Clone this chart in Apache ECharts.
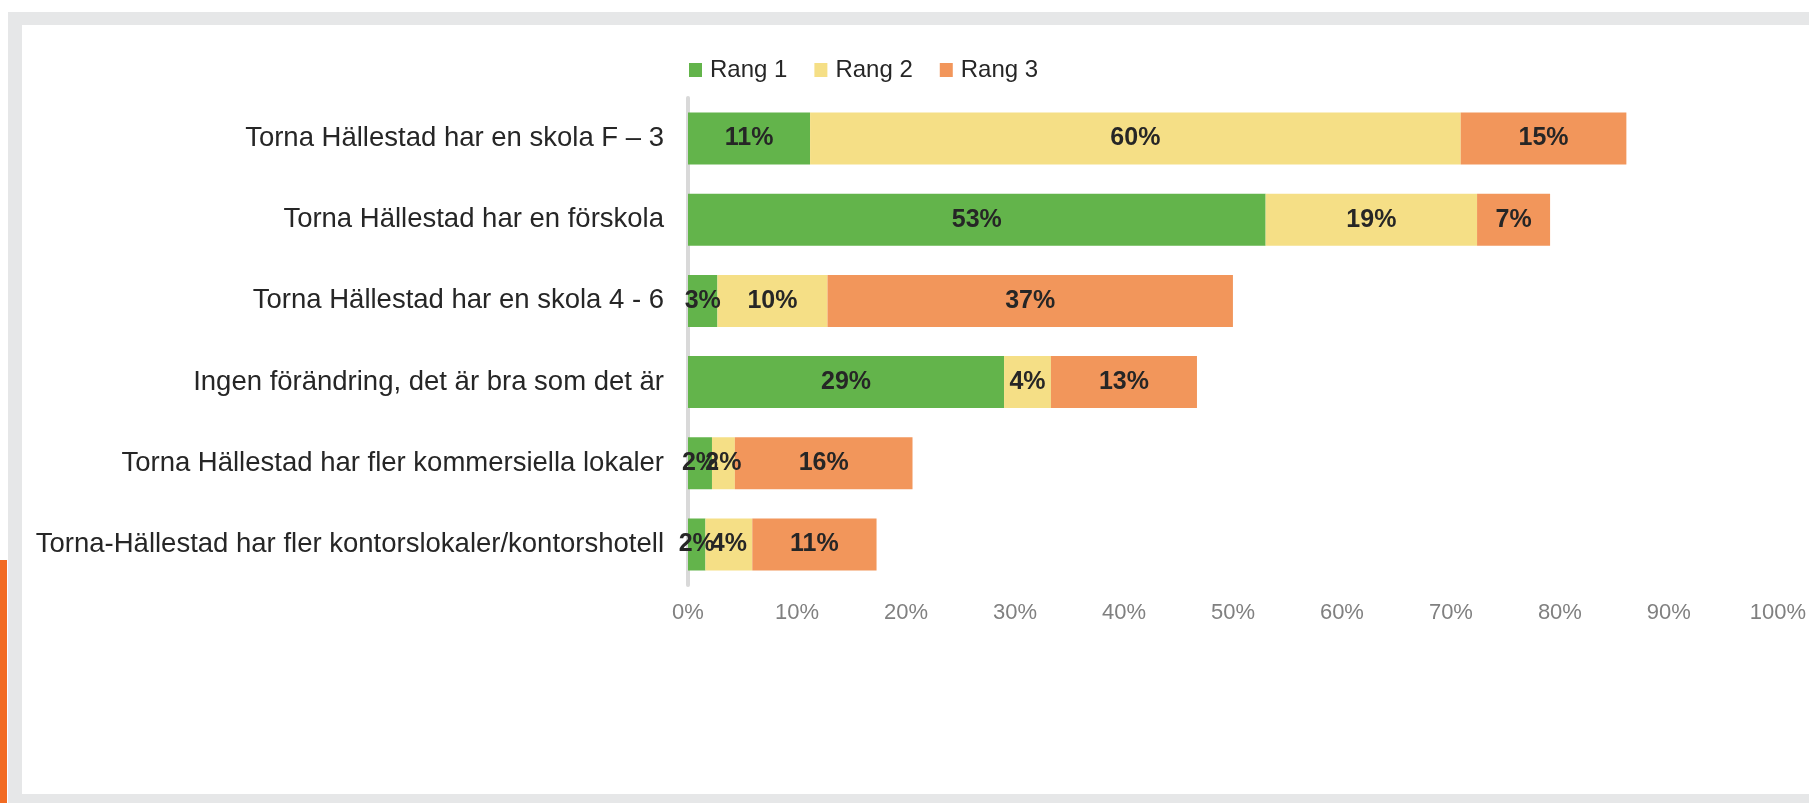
<!DOCTYPE html>
<html>
<head>
<meta charset="utf-8">
<script src="https://cdn.jsdelivr.net/npm/echarts@6/dist/echarts.min.js"></script>
<style>
html,body{margin:0;padding:0;background:#fff;}
#c{width:1809px;height:803px;}
</style>
</head>
<body>
<div id="c"></div>
<script>
const categories = [
  'Torna Hällestad har en skola F – 3',
  'Torna Hällestad har en förskola',
  'Torna Hällestad har en skola 4 - 6',
  'Ingen förändring, det är bra som det är',
  'Torna Hällestad har fler kommersiella lokaler',
  'Torna-Hällestad har fler kontorslokaler/kontorshotell'
];
const seriesNames = ['Rang 1', 'Rang 2', 'Rang 3'];
const rang1 = [11.2, 53.0, 2.7, 29.0, 2.2, 1.6];
const rang2 = [59.7, 19.4, 10.1, 4.3, 2.1, 4.3];
const rang3 = [15.2, 6.7, 37.2, 13.4, 16.3, 11.4];
const xTicks = [0, 10, 20, 30, 40, 50, 60, 70, 80, 90, 100];
const colors = ['#63b44b', '#f5df86', '#f2965b'];

const FONT = 'Liberation Sans, Arial, sans-serif';
const chart = echarts.init(document.getElementById('c'), null, {renderer: 'canvas'});

const mk = (name, data, color) => ({
  name: name,
  type: 'bar',
  stack: 'total',
  data: data,
  barWidth: 52,
  itemStyle: {color: color},
  label: {
    show: true,
    position: 'inside',
    formatter: p => Math.round(p.value) + '%',
    color: '#262626',
    fontFamily: FONT,
    fontWeight: 'bold',
    fontSize: 25
  },
  emphasis: {disabled: true}
});

chart.setOption({
  animation: false,
  backgroundColor: '#ffffff',
  graphic: [
    {type: 'rect', shape: {x: 8, y: 12, width: 1801, height: 13}, style: {fill: '#e6e7e8'}, z: -10},
    {type: 'rect', shape: {x: 8, y: 12, width: 14, height: 791}, style: {fill: '#e6e7e8'}, z: -10},
    {type: 'rect', shape: {x: 8, y: 794, width: 1801, height: 9}, style: {fill: '#e6e7e8'}, z: -10},
    {type: 'rect', shape: {x: 0, y: 560, width: 7, height: 243}, style: {fill: '#f26b22'}, z: -10}
  ],
  legend: {
    data: seriesNames,
    left: 689,
    top: 58,
    padding: 0,
    itemWidth: 13,
    itemHeight: 14,
    itemGap: 27,
    icon: 'rect',
    textStyle: {fontFamily: FONT, fontSize: 24, color: '#262626', padding: [0, 0, 0, 3]}
  },
  grid: {left: 688, right: 28, top: 98, bottom: 218, containLabel: false},
  xAxis: {
    type: 'value',
    min: 0,
    max: 100,
    interval: 10,
    axisLine: {show: false},
    axisTick: {show: false},
    splitLine: {show: false},
    axisLabel: {
      formatter: v => xTicks.includes(v) ? v + '%' : '',
      color: '#808080',
      fontFamily: FONT,
      fontSize: 22,
      margin: 17
    }
  },
  yAxis: {
    type: 'category',
    data: categories,
    inverse: true,
    axisLine: {show: true, lineStyle: {color: '#d9d9d9', width: 4}},
    axisTick: {show: false},
    axisLabel: {color: '#262626', fontFamily: FONT, fontSize: 27.5, margin: 24}
  },
  series: [
    mk(seriesNames[0], rang1, colors[0]),
    mk(seriesNames[1], rang2, colors[1]),
    mk(seriesNames[2], rang3, colors[2])
  ]
});
</script>
</body>
</html>
